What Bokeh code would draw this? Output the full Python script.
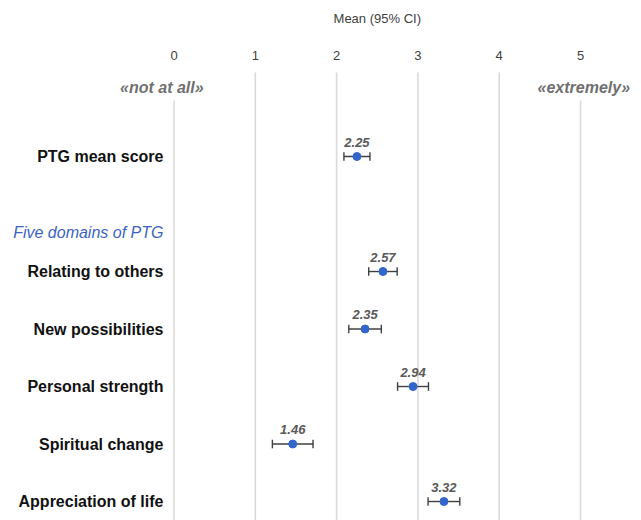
from bokeh.plotting import figure
from bokeh.models import Range1d, ColumnDataSource
from bokeh.core.properties import value
from bokeh.embed import file_html
from bokeh.resources import INLINE

# --- data -------------------------------------------------------------
labels = ["PTG mean score", "Relating to others", "New possibilities",
          "Personal strength", "Spiritual change", "Appreciation of life"]
means = [2.25, 2.57, 2.35, 2.94, 1.46, 3.32]
ci_half = [0.16, 0.175, 0.20, 0.19, 0.25, 0.195]
rows = [0, 2, 3, 4, 5, 6]          # vertical slot of each item
tick_values = [0, 1, 2, 3, 4, 5]
tick_labels = ["0", "1", "2", "3", "4", "5"]
axis_title = "Mean (95% CI)"
low_anchor = "«not at all»"
high_anchor = "«extremely»"
group_heading = "Five domains of PTG"

FONT = value("Liberation Sans")

p = figure(width=641, height=520, output_backend="svg", toolbar_location=None,
           x_range=Range1d(-2.134, 5.75), y_range=Range1d(6.33, -2.713),
           min_border=0, min_border_left=0, min_border_right=0,
           min_border_top=0, min_border_bottom=0)
p.axis.visible = False
p.grid.visible = False
p.outline_line_color = None
p.background_fill_color = "white"
p.border_fill_color = "white"

# vertical gridlines; the end ones start below the anchor words
grid_top = [-0.974 if v in (0, 5) else -1.46 for v in tick_values]
p.segment(x0=tick_values, x1=tick_values, y0=grid_top,
          y1=[6.4] * len(tick_values), line_color="#dadada", line_width=1.6)

# tick labels and axis title across the top
p.text(x=tick_values, y=[-1.757] * len(tick_values), text=tick_labels,
       text_font=FONT, text_font_size="13px", text_color="#404040",
       text_align="center", text_baseline="middle")
p.text(x=[2.5], y=[-2.40], text=[axis_title], text_font=FONT,
       text_font_size="13px", text_color="#404040",
       text_align="center", text_baseline="middle")

# scale anchors
p.text(x=[-0.15, 5.04], y=[-1.2, -1.2], text=[low_anchor, high_anchor],
       text_font=FONT, text_font_size="16px", text_font_style="bold italic",
       text_color="#707070", text_align="center", text_baseline="middle")

# row labels
p.text(x=[-0.13] * len(labels), y=rows, text=labels, text_font=FONT,
       text_font_size="16px", text_font_style="bold", text_color="#111111",
       text_align="right", text_baseline="middle")
p.text(x=[-0.13], y=[1.32], text=[group_heading], text_font=FONT,
       text_font_size="16px", text_font_style="italic", text_color="#3a63c2",
       text_align="right", text_baseline="middle")

# error bars with caps
lo = [m - h for m, h in zip(means, ci_half)]
hi = [m + h for m, h in zip(means, ci_half)]
src = ColumnDataSource(dict(m=means, lo=lo, hi=hi, y=rows,
                            cap0=[r - 0.075 for r in rows],
                            cap1=[r + 0.075 for r in rows],
                            ly=[r - 0.25 for r in rows],
                            txt=[f"{m:.2f}" for m in means]))
p.segment(x0="lo", x1="hi", y0="y", y1="y", source=src,
          line_color="#404040", line_width=1.4)
p.segment(x0="lo", x1="lo", y0="cap0", y1="cap1", source=src,
          line_color="#404040", line_width=1.4)
p.segment(x0="hi", x1="hi", y0="cap0", y1="cap1", source=src,
          line_color="#404040", line_width=1.4)
p.scatter(x="m", y="y", source=src, size=8, fill_color="#3366cc",
          line_color="#3366cc")

# value labels above each point
p.text(x="m", y="ly", text="txt", source=src, text_font=FONT,
       text_font_size="13px", text_font_style="bold italic",
       text_color="#595959", text_align="center", text_baseline="middle")

open("out.html", "w").write(file_html(p, INLINE))
